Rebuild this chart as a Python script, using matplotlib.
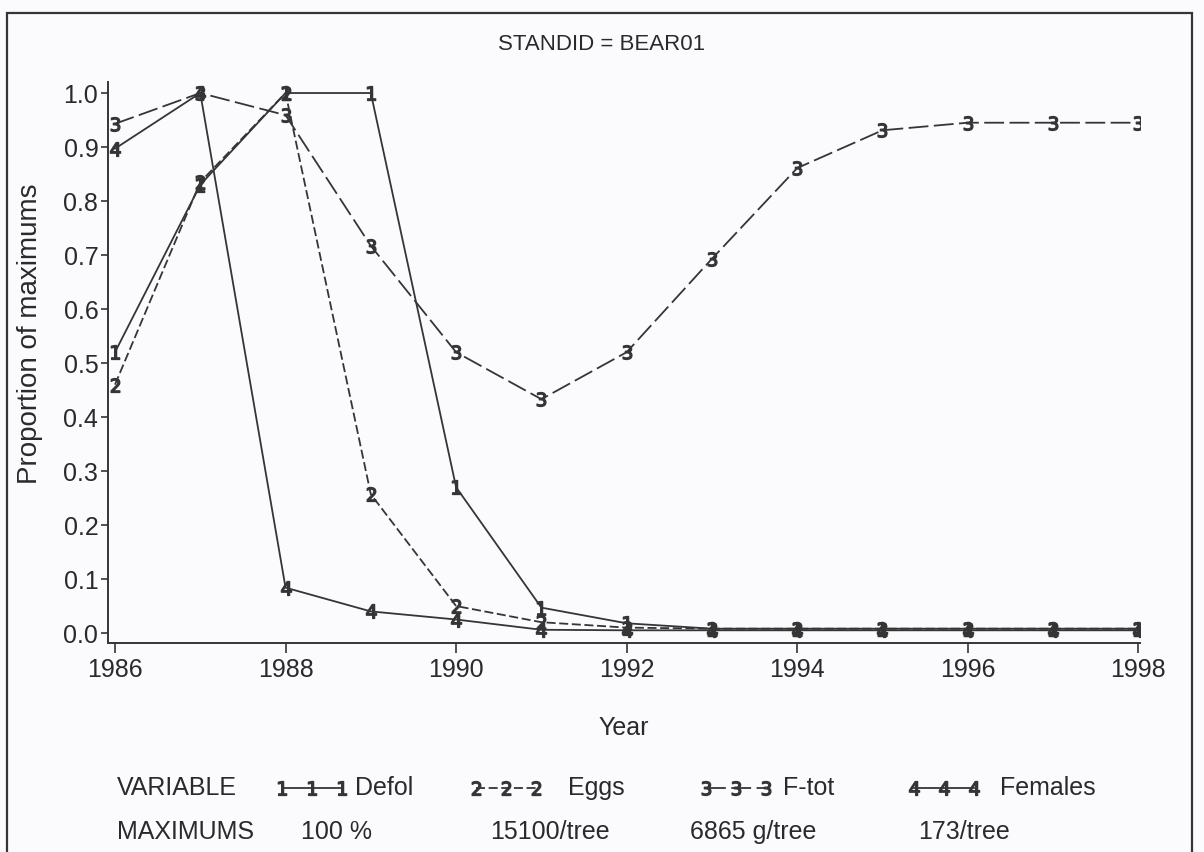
import matplotlib.pyplot as plt
from matplotlib.patches import Rectangle
from matplotlib.lines import Line2D
import numpy as np

plt.rcParams["font.family"] = ["Liberation Sans", "DejaVu Sans"]

# data
years = np.arange(1986, 1999)
defol = [0.52, 0.83, 1.0, 1.0, 0.27, 0.047, 0.018, 0.008, 0.008, 0.008, 0.008, 0.008, 0.008]
eggs = [0.46, 0.835, 1.0, 0.257, 0.05, 0.02, 0.01, 0.008, 0.008, 0.008, 0.008, 0.008, 0.008]
ftot = [0.943, 1.0, 0.959, 0.717, 0.52, 0.433, 0.52, 0.693, 0.861, 0.931, 0.945, 0.945, 0.945]
females = [0.897, 1.0, 0.084, 0.04, 0.025, 0.006, 0.005, 0.005, 0.005, 0.005, 0.005, 0.005, 0.005]

names = ["Defol", "Eggs", "F-tot", "Females"]
maximums = ["100 %", "15100/tree", "6865 g/tree", "173/tree"]
symbols = ["1", "2", "3", "4"]
styles = ["-", (0, (5, 2)), (0, (11, 3)), "-"]
ink = "#353535"
txt = "#2a2a2a"

fig = plt.figure(figsize=(12.04, 8.52), dpi=100)
ax = fig.add_axes([108 / 1204, 1 - 643 / 852, 1032 / 1204, 561 / 852])

for vals, sym, ls in zip([defol, eggs, ftot, females], symbols, styles):
    ax.plot(years, vals, color=ink, lw=1.3, linestyle=ls,
            marker="$%s$" % sym, markersize=10, markeredgewidth=1.0,
            markerfacecolor=ink, markeredgecolor=ink)

ax.set_xlim(1985.918, 1998.02)
ax.set_ylim(-0.0185, 1.0204)
ax.set_xticks(np.arange(1986, 1999, 2))
ax.set_yticks(np.arange(0, 1.01, 0.1))
ax.set_yticklabels(["%.1f" % v for v in np.arange(0, 1.01, 0.1)])
ax.spines["top"].set_visible(False)
ax.spines["right"].set_visible(False)
for s in ["left", "bottom"]:
    ax.spines[s].set_color(ink)
    ax.spines[s].set_linewidth(1.4)
ax.tick_params(axis="x", length=7, width=1.2, color=ink, labelsize=18, pad=4, labelcolor=txt)
ax.tick_params(axis="y", length=5, width=1.2, color=ink, labelsize=18, pad=2, labelcolor=txt)
ax.set_xlabel("Year", fontsize=18, color=txt, labelpad=24)
ax.set_ylabel("Proportion of maximums", fontsize=20, color=txt)
ax.yaxis.set_label_coords(-0.063, 0.551)
ax.patch.set_alpha(0)

fig.text(602 / 1204, 1 - 44 / 852, "STANDID = BEAR01", ha="center", va="center",
         fontsize=16, color=txt)

# legend block at the bottom
leg = fig.add_axes([0, 0, 1, 1], facecolor="none")
leg.set_xlim(0, 1204)
leg.set_ylim(852, 0)
leg.axis("off")
leg.text(117, 788, "VARIABLE", fontsize=18, va="center", color=txt)
leg.text(117, 832, "MAXIMUMS", fontsize=18, va="center", color=txt)
starts = [282, 476, 706, 914]
label_x = [355, 568, 783, 1000]
max_x = [301, 490, 690, 918]
for x0, lx, mx, sym, ls, name, mval in zip(starts, label_x, max_x, symbols, styles, names, maximums):
    leg.add_line(Line2D([x0, x0 + 30, x0 + 60], [788, 788, 788], color=ink, lw=1.3,
                        linestyle=ls, marker="$%s$" % sym, markersize=10,
                        markeredgewidth=1.0, markerfacecolor=ink, markeredgecolor=ink))
    leg.text(lx, 788, name, fontsize=18, va="center", color=txt)
    leg.text(mx, 832, mval, fontsize=18, va="center", color=txt)

# outer frame of the scanned figure
fig.patches.append(Rectangle((7 / 1204, -0.02), 1185 / 1204, 1 - 13 / 852 + 0.02,
                             transform=fig.transFigure, fill=False,
                             edgecolor=ink, lw=1.6))

fig.savefig("out.png", dpi=100, facecolor="#fbfbfd")
